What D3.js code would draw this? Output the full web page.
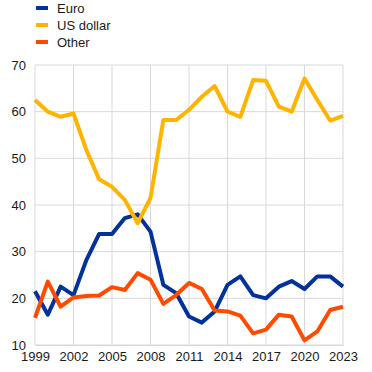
<!DOCTYPE html>
<html>
<head>
<meta charset="utf-8">
<script src="https://cdn.jsdelivr.net/npm/d3@7"></script>
<style>
  body { margin: 0; background: #fff; }
  text { font-family: Arial, "Liberation Sans", sans-serif; }
</style>
</head>
<body>
<div id="chart"></div>
<script>
const years = d3.range(1999, 2024);
const euro = [21.5, 16.5, 22.5, 20.7, 28.2, 33.8, 33.8, 37.2, 38.0, 34.3, 22.9, 21.1, 16.1, 14.8, 17.2, 22.9, 24.7, 20.7, 20.0, 22.5, 23.7, 22.0, 24.7, 24.7, 22.5];
const usd = [62.5, 60.0, 58.9, 59.6, 51.8, 45.5, 43.9, 41.1, 36.1, 41.5, 58.2, 58.2, 60.4, 63.2, 65.5, 60.0, 58.9, 66.8, 66.6, 61.1, 60.0, 67.1, 62.5, 58.1, 59.1];
const other = [15.8, 23.6, 18.2, 20.2, 20.5, 20.6, 22.4, 21.8, 25.4, 24.0, 18.8, 20.7, 23.3, 22.0, 17.4, 17.2, 16.3, 12.5, 13.3, 16.5, 16.1, 11.0, 12.9, 17.5, 18.2];
const xTicks = [1999, 2002, 2005, 2008, 2011, 2014, 2017, 2020, 2023];
const yTicks = [10, 20, 30, 40, 50, 60, 70];

const series = [
    { name: "Euro", values: euro, color: "#003299" },
    { name: "US dollar", values: usd, color: "#ffb400" },
    { name: "Other", values: other, color: "#ff4b00" }
];

const W = 372, H = 372;
const margin = { top: 65, right: 29, bottom: 27, left: 35 };

const svg = d3.select("#chart")
    .append("svg")
    .attr("width", W)
    .attr("height", H);

const x = d3.scaleLinear()
    .domain([1999, 2023])
    .range([margin.left, W - margin.right]);

const y = d3.scaleLinear()
    .domain([10, 70])
    .range([H - margin.bottom, margin.top]);

// grid
svg.append("g")
    .selectAll("line")
    .data(yTicks)
    .join("line")
    .attr("x1", margin.left)
    .attr("x2", W - margin.right)
    .attr("y1", d => y(d))
    .attr("y2", d => y(d))
    .attr("stroke", "#d9d9d9")
    .attr("stroke-width", 1);

svg.append("g")
    .selectAll("line")
    .data(xTicks)
    .join("line")
    .attr("x1", d => x(d))
    .attr("x2", d => x(d))
    .attr("y1", y(70))
    .attr("y2", y(10))
    .attr("stroke", "#d9d9d9")
    .attr("stroke-width", 1);

// y axis
const yAxis = svg.append("g")
    .attr("transform", `translate(${margin.left},0)`)
    .call(d3.axisLeft(y).tickValues(yTicks).tickSize(0).tickPadding(9));
yAxis.select(".domain").remove();
yAxis.selectAll("text")
    .attr("font-size", 13)
    .attr("font-family", "Arial, 'Liberation Sans', sans-serif")
    .attr("fill", "#1a1a1a");

// x axis
const xAxis = svg.append("g")
    .attr("transform", `translate(0,${y(10)})`)
    .call(d3.axisBottom(x).tickValues(xTicks).tickFormat(d3.format("d")).tickSize(0).tickPadding(7));
xAxis.select(".domain").attr("stroke", "#d9d9d9");
xAxis.selectAll("text")
    .attr("font-size", 13)
    .attr("font-family", "Arial, 'Liberation Sans', sans-serif")
    .attr("fill", "#1a1a1a");

// lines
const line = d3.line()
    .x((d, i) => x(years[i]))
    .y(d => y(d));

svg.append("g")
    .selectAll("path")
    .data(series)
    .join("path")
    .attr("d", d => line(d.values))
    .attr("fill", "none")
    .attr("stroke", d => d.color)
    .attr("stroke-width", 4)
    .attr("stroke-linejoin", "round");

// legend
const legend = svg.append("g")
    .selectAll("g")
    .data(series)
    .join("g")
    .attr("transform", (d, i) => `translate(36,${8 + i * 17})`);

legend.append("rect")
    .attr("width", 12)
    .attr("height", 4)
    .attr("y", -2)
    .attr("fill", d => d.color);

legend.append("text")
    .attr("x", 21)
    .attr("dy", "0.35em")
    .attr("font-size", 13)
    .attr("fill", "#1a1a1a")
    .text(d => d.name);
</script>
</body>
</html>
